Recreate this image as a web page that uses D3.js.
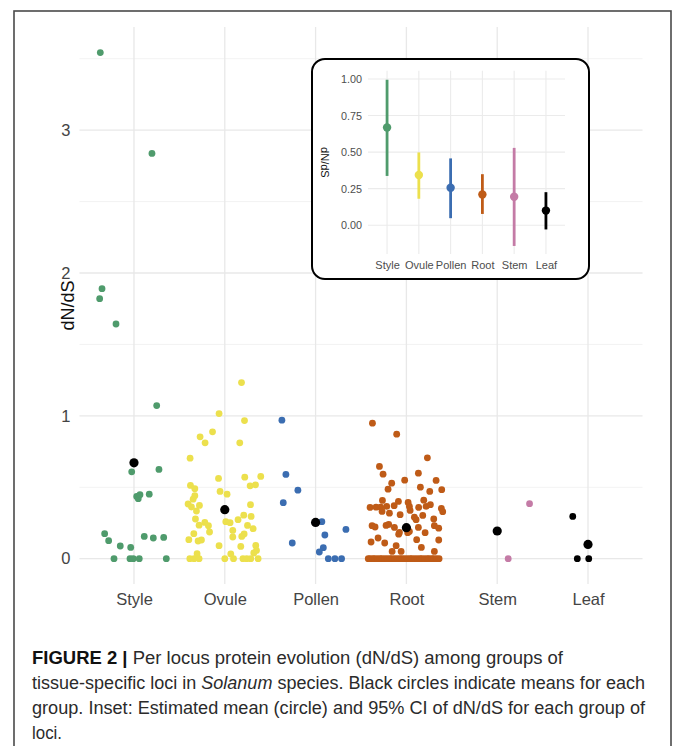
<!DOCTYPE html>
<html>
<head>
<meta charset="utf-8">
<script src="https://cdn.jsdelivr.net/npm/d3@7"></script>
<style>
  body { margin: 0; background: #fff; }
  svg text { font-family: "Liberation Sans", Arial, sans-serif; }
</style>
</head>
<body>
<div id="chart"></div>
<script>
// groups (x axis)
const categories = ["Style", "Ovule", "Pollen", "Root", "Stem", "Leaf"];
const colors = ["#4f9b6c", "#ece04d", "#3b6db1", "#bf5b17", "#c47ba6", "#000000"];

// per locus dN/dS values and the horizontal jitter (in category steps)
const styleVals = [3.543, 2.837, 1.890, 1.820, 1.643, 1.072, 0.608, 0.625, 0.436, 0.420, 0.448, 0.452,
  0.175, 0.126, 0.156, 0.145, 0.149, 0.089, 0.079, 0, 0, 0, 0, 0];
const styleJit = [-0.371, 0.198, -0.352, -0.378, -0.198, 0.25, -0.025, 0.275, 0.03, 0.047, 0.066, 0.168,
  -0.323, -0.279, 0.113, 0.213, 0.327, -0.151, -0.036, -0.22, -0.044, -0.008, 0.058, 0.356];

const ovuleVals = [1.233, 1.016, 0.967, 0.888, 0.853, 0.811, 0.811, 0.704, 0.562, 0.571, 0.576, 0.510,
  0.517, 0.513, 0.490, 0.471, 0.452, 0.441, 0.417, 0.383, 0.373, 0.378, 0.362, 0.334, 0.305, 0.296,
  0.273, 0.278, 0.259, 0.252, 0.254, 0.235, 0.231, 0.233, 0.210, 0.198, 0.187, 0.175, 0.173, 0.152,
  0.156, 0.133, 0.124, 0.131, 0.091, 0.086, 0.093, 0.058, 0.040, 0.035, 0.033,
  0, 0, 0, 0, 0, 0, 0, 0, 0];
const ovuleJit = [0.184, -0.063, 0.217, -0.135, -0.272, -0.217, 0.165, -0.382, -0.069, 0.22, 0.396, 0.279,
  0.338, -0.378, -0.33, -0.052, 0.025, -0.33, -0.349, -0.404, -0.279, 0.283, -0.367, -0.312, 0.209, 0.29,
  0.146, -0.323, 0.011, 0.058, -0.22, -0.283, -0.18, 0.25, 0.312, 0.088, -0.168, -0.341, 0.213, 0.088,
  0.187, -0.396, -0.294, -0.257, -0.063, 0.176, 0.341, 0.349, 0.319, -0.305, 0.066,
  -0.385, -0.338, -0.283, 0, 0.096, 0.2, 0.242, 0.286, 0.367];

const pollenVals = [0.970, 0.590, 0.480, 0.392, 0.259, 0.205, 0.166, 0.110, 0.077, 0.047, 0, 0, 0];
const pollenJit = [-0.371, -0.327, -0.195, -0.356, 0.069, 0.334, 0.102, -0.257, 0.085, 0.041, 0.14, 0.213, 0.286];

const rootVals = [0.949, 0.872, 0.706, 0.646, 0.592, 0.599, 0.550, 0.548, 0.529, 0.487, 0.501, 0.471, 0.483,
  0.408, 0.401, 0.394, 0.410,
  0.359, 0.361, 0.361, 0.366, 0.371, 0.366, 0.359, 0.366, 0.378, 0.352,
  0.331, 0.319, 0.308, 0.338, 0.303, 0.329,
  0.291, 0.273, 0.278,
  0.231, 0.222, 0.233, 0.240, 0.219, 0.184, 0.182, 0.219, 0.231, 0.214,
  0.172, 0.191, 0.182,
  0.145, 0.110, 0.117, 0.133, 0.131,
  0.091, 0.079, 0.051, 0.051, 0.051,
  0, 0, 0, 0, 0, 0, 0, 0, 0, 0, 0, 0, 0, 0, 0, 0, 0, 0, 0, 0, 0, 0, 0, 0, 0, 0, 0, 0, 0, 0];
const rootJit = [-0.374, -0.107, 0.231, -0.297, -0.257, 0.132, -0.019, 0.327, -0.162, -0.202, 0.154, 0.257, 0.389,
  -0.264, -0.088, 0.019, 0.191,
  -0.4, -0.334, -0.283, -0.217, -0.135, 0.033, 0.135, 0.217, 0.264, 0.385,
  -0.268, -0.187, -0.069, 0.041, 0.18, 0.4,
  0.088, 0.107, 0.301,
  -0.378, -0.345, -0.224, -0.195, -0.132, -0.077, 0.014, 0.132, 0.308, 0.356,
  -0.085, 0.033, 0.206,
  -0.312, -0.239, -0.389, 0.113, 0.356,
  -0.113, 0.165, -0.157, -0.058, 0.308,
  -0.42, -0.40, -0.37, -0.35, -0.32, -0.29, -0.27, -0.24, -0.21, -0.18, -0.16, -0.13, -0.10, -0.07, -0.05,
  -0.02, 0.01, 0.04, 0.06, 0.09, 0.12, 0.15, 0.17, 0.20, 0.23, 0.25, 0.28, 0.30, 0.33, 0.36];

const stemVals = [0.385, 0];
const stemJit = [0.356, 0.121];

const leafVals = [0.296, 0, 0];
const leafJit = [-0.168, -0.118, 0.008];

// group means (black circles)
const groupMeans = [0.671, 0.343, 0.254, 0.217, 0.194, 0.100];

// inset: estimated mean and 95% CI
const ciMean = [0.668, 0.344, 0.256, 0.210, 0.195, 0.100];
const ciLow = [0.337, 0.181, 0.048, 0.077, -0.142, -0.029];
const ciHigh = [0.995, 0.498, 0.457, 0.349, 0.529, 0.226];
const insetTicks = [0, 0.25, 0.5, 0.75, 1];

const mainTicks = [0, 1, 2, 3];
const mainMinor = [0.5, 1.5, 2.5, 3.5];

const captionLines = [
  { bold: "FIGURE 2 | ", text: "Per locus protein evolution (dN/dS) among groups of", len: 531 },
  { text: "tissue-specific loci in ", ital: "Solanum", rest: " species. Black circles indicate means for each", len: 613 },
  { text: "group. Inset: Estimated mean (circle) and 95% CI of dN/dS for each group of", len: 613 },
  { text: "loci.", len: 30 }
];

const groupVals = [styleVals, ovuleVals, pollenVals, rootVals, stemVals, leafVals];
const groupJit = [styleJit, ovuleJit, pollenJit, rootJit, stemJit, leafJit];

const W = 673, H = 746;
const svg = d3.select("#chart").append("svg")
  .attr("width", W).attr("height", H);

svg.append("rect").attr("width", W).attr("height", H).attr("fill", "#fff");

// page frame
svg.append("rect")
  .attr("x", 14).attr("y", 11)
  .attr("width", 657).attr("height", 760)
  .attr("fill", "none")
  .attr("stroke", "#4a4a4a")
  .attr("stroke-width", 1.6);

// ---- main panel ----
const panel = { left: 79.5, right: 642.5, top: 27, bottom: 584 };

const x = d3.scalePoint()
  .domain(categories)
  .range([panel.left, panel.right])
  .padding(0.6);
const step = x.step();

const y = d3.scaleLinear()
  .domain([-0.177, 3.722])
  .range([panel.bottom, panel.top]);

const grid = svg.append("g");
grid.selectAll(".minor").data(mainMinor).enter().append("line")
  .attr("x1", panel.left).attr("x2", panel.right)
  .attr("y1", d => y(d)).attr("y2", d => y(d))
  .attr("stroke", "#ececec").attr("stroke-width", 0.7);
grid.selectAll(".major").data(mainTicks).enter().append("line")
  .attr("x1", panel.left).attr("x2", panel.right)
  .attr("y1", d => y(d)).attr("y2", d => y(d))
  .attr("stroke", "#e8e8e8").attr("stroke-width", 1.3);
grid.selectAll(".vert").data(categories).enter().append("line")
  .attr("x1", d => x(d)).attr("x2", d => x(d))
  .attr("y1", panel.top).attr("y2", panel.bottom)
  .attr("stroke", "#e8e8e8").attr("stroke-width", 1.3);

// axes (text only)
const yAxis = svg.append("g")
  .attr("transform", `translate(${panel.left - 6},0)`)
  .call(d3.axisLeft(y).tickValues(mainTicks).tickSize(0).tickFormat(d3.format("d")));
yAxis.select(".domain").remove();
yAxis.selectAll("text")
  .attr("font-size", 16.5).attr("fill", "#444").attr("dx", 0)
  .style("font-family", "Liberation Sans, Arial, sans-serif");

const xAxis = svg.append("g")
  .attr("transform", `translate(0,${panel.bottom + 2})`)
  .call(d3.axisBottom(x).tickSize(0));
xAxis.select(".domain").remove();
xAxis.selectAll("text")
  .attr("font-size", 16.5).attr("fill", "#444").attr("dy", "0.95em")
  .style("font-family", "Liberation Sans, Arial, sans-serif");

svg.append("text")
  .attr("transform", `translate(68,${(panel.top + panel.bottom) / 2}) rotate(-90)`)
  .attr("text-anchor", "middle")
  .attr("dominant-baseline", "central")
  .attr("font-size", 18)
  .attr("fill", "#111")
  .text("dN/dS");

// points
const pts = [];
groupVals.forEach((vals, gi) => {
  vals.forEach((v, i) => pts.push({ g: gi, v: v, j: groupJit[gi][i] }));
});

svg.append("g").selectAll("circle")
  .data(pts).enter().append("circle")
  .attr("cx", d => x(categories[d.g]) + d.j * step)
  .attr("cy", d => y(d.v))
  .attr("r", 3.4)
  .attr("fill", d => colors[d.g]);

svg.append("g").selectAll("circle")
  .data(groupMeans).enter().append("circle")
  .attr("cx", (d, i) => x(categories[i]))
  .attr("cy", d => y(d))
  .attr("r", 4.6)
  .attr("fill", "#000");

// ---- inset ----
const inset = svg.append("g");
inset.append("rect")
  .attr("x", 312).attr("y", 59)
  .attr("width", 277).attr("height", 220)
  .attr("rx", 13).attr("ry", 13)
  .attr("fill", "#fff")
  .attr("stroke", "#000")
  .attr("stroke-width", 2);

const ip = { left: 368, right: 565, top: 70.7, bottom: 254 };
const ix = d3.scalePoint().domain(categories).range([ip.left, ip.right]).padding(0.6);
const iy = d3.scaleLinear().domain([-0.197, 1.057]).range([ip.bottom, ip.top]);

inset.selectAll(".ih").data(insetTicks).enter().append("line")
  .attr("x1", ip.left).attr("x2", ip.right)
  .attr("y1", d => iy(d)).attr("y2", d => iy(d))
  .attr("stroke", "#ebebeb").attr("stroke-width", 1.1);
inset.selectAll(".iv").data(categories).enter().append("line")
  .attr("x1", d => ix(d)).attr("x2", d => ix(d))
  .attr("y1", ip.top).attr("y2", ip.bottom)
  .attr("stroke", "#ebebeb").attr("stroke-width", 1.1);

const iyAxis = inset.append("g")
  .attr("transform", `translate(${ip.left - 3},0)`)
  .call(d3.axisLeft(iy).tickValues(insetTicks).tickSize(0).tickFormat(d3.format(".2f")));
iyAxis.select(".domain").remove();
iyAxis.selectAll("text")
  .attr("font-size", 10.8).attr("fill", "#4d4d4d")
  .style("font-family", "Liberation Sans, Arial, sans-serif");

const ixAxis = inset.append("g")
  .attr("transform", `translate(0,${ip.bottom + 2})`)
  .call(d3.axisBottom(ix).tickSize(0));
ixAxis.select(".domain").remove();
ixAxis.selectAll("text")
  .attr("font-size", 11).attr("fill", "#4d4d4d").attr("dy", "0.9em")
  .style("font-family", "Liberation Sans, Arial, sans-serif");

inset.append("text")
  .attr("transform", `translate(325,${(ip.top + ip.bottom) / 2}) rotate(90)`)
  .attr("text-anchor", "middle")
  .attr("dominant-baseline", "central")
  .attr("font-size", 11)
  .attr("fill", "#111")
  .text("dN/dS");

inset.selectAll(".ci").data(categories).enter().append("line")
  .attr("x1", d => ix(d)).attr("x2", d => ix(d))
  .attr("y1", (d, i) => iy(ciLow[i]))
  .attr("y2", (d, i) => iy(ciHigh[i]))
  .attr("stroke", (d, i) => colors[i])
  .attr("stroke-width", 2.8);
inset.selectAll(".cm").data(categories).enter().append("circle")
  .attr("cx", d => ix(d))
  .attr("cy", (d, i) => iy(ciMean[i]))
  .attr("r", 4.2)
  .attr("fill", (d, i) => colors[i]);

// ---- caption ----
const cap = svg.append("g")
  .style("font-family", "Liberation Sans Narrow, Liberation Sans, Arial, sans-serif")
  .attr("font-size", 17.5)
  .attr("fill", "#2b2b2b");

captionLines.forEach((ln, i) => {
  const t = cap.append("text")
    .attr("x", 32).attr("y", 664 + i * 25)
    .attr("textLength", ln.len)
    .attr("lengthAdjust", "spacingAndGlyphs");
  if (ln.bold) t.append("tspan").attr("font-weight", "bold").attr("fill", "#111").text(ln.bold);
  t.append("tspan").text(ln.text);
  if (ln.ital) t.append("tspan").attr("font-style", "italic").text(ln.ital);
  if (ln.rest) t.append("tspan").text(ln.rest);
});
</script>
</body>
</html>
